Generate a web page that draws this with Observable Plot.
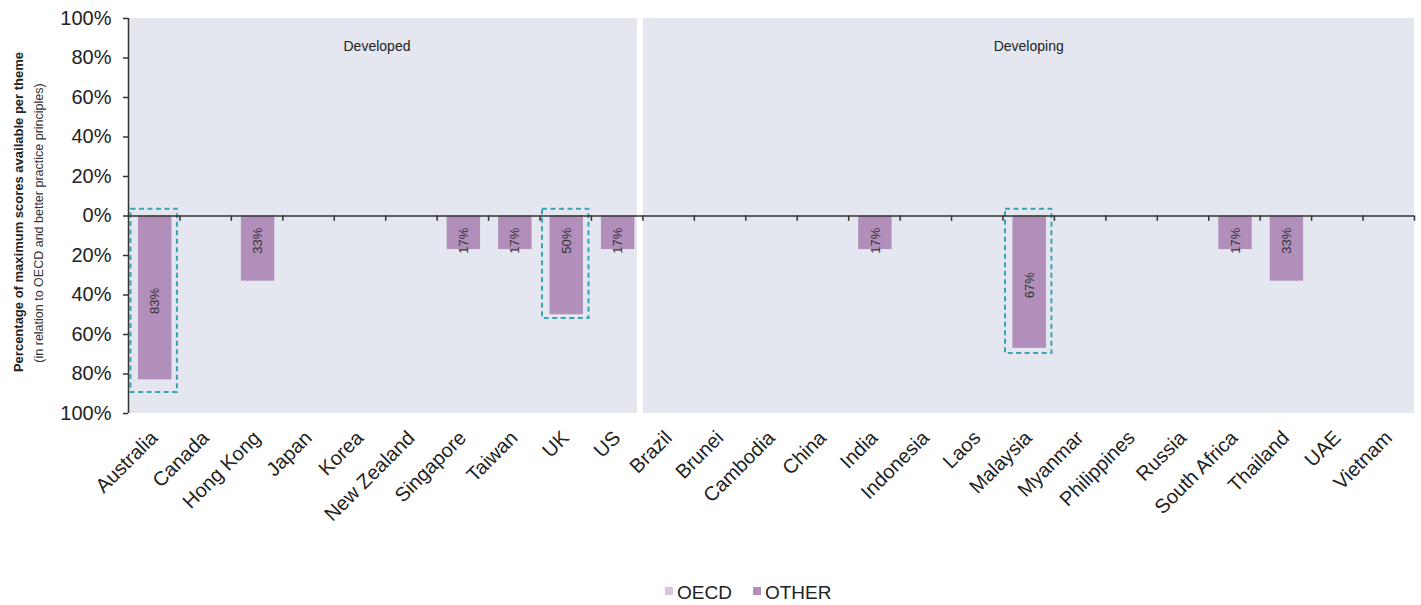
<!DOCTYPE html>
<html><head><meta charset="utf-8">
<script src="https://cdn.jsdelivr.net/npm/d3@7"></script>
<script src="https://cdn.jsdelivr.net/npm/@observablehq/plot@0.6"></script>
<style>
body{margin:0;background:#fff;font-family:"Liberation Sans",Arial,sans-serif;}
#wrap{position:relative;width:1421px;height:605px;overflow:hidden;}
#legend{position:absolute;left:665px;top:581px;font-size:19px;line-height:24px;color:#222;display:flex;align-items:flex-start;white-space:nowrap;}
#legend .item{display:flex;align-items:flex-start;margin-right:21px;}
#legend .sw{width:8px;height:8px;margin-top:6px;margin-right:4px;display:inline-block;}
</style></head><body>
<div id="wrap"><div id="chart"></div><div id="legend"></div></div>
<script>
const developed = ["Australia","Canada","Hong Kong","Japan","Korea","New Zealand","Singapore","Taiwan","UK","US"];
const developing = ["Brazil","Brunei","Cambodia","China","India","Indonesia","Laos","Malaysia","Myanmar","Philippines","Russia","South Africa","Thailand","UAE","Vietnam"];
const categories = developed.concat(developing);
const seriesNames = ["OECD","OTHER"];
const seriesColors = ["#d8c5dc","#b28fbb"];
const oecdValues  = [0,0,0,0,0,0,0,0,0,0, 0,0,0,0,0,0,0,0,0,0,0,0,0,0,0];
const otherValues = [83,0,33,0,0,0,17,17,50,17, 0,0,0,0,17,0,0,67,0,0,0,17,33,0,0];
const highlightCountries = ["Australia","UK","Malaysia"];
const highlightTop = [4.7,4.7,4.7];
const highlightBottom = [90.6,53.2,70.9];
const yTicks = [-100,-80,-60,-40,-20,0,20,40,60,80,100];
const panelLabels = ["Developed","Developing"];
const yTitle = "Percentage of maximum scores available per theme";
const ySubtitle = "(in relation to OECD and better practice principles)";

const W = 1421, H = 560, ML = 128, MR = 7, MT = 18, MB = 147;
const step = (W - ML - MR) / categories.length;

const rows = categories.map((c, i) => ({country: c, group: i < developed.length ? "Developed" : "Developing", oecd: oecdValues[i], other: otherValues[i]}));
const labelled = rows.filter(d => d.other > 0);
const boxes = highlightCountries.map((c, i) => ({country: c, top: highlightTop[i], bottom: highlightBottom[i]}));
// label placement mimics the source: short bars get labels near the top, long bars centred
const labelY = d => -(d.other >= 60 ? d.other / 2 + 1.5 : 12.5);

const ink = "#222";
const chart = Plot.plot({
  width: W, height: H, marginTop: MT, marginBottom: MB, marginLeft: ML, marginRight: MR,
  x: {domain: categories, padding: 0, round: false},
  y: {domain: [-100, 100]},
  style: {fontFamily: '"Liberation Sans", Arial, sans-serif', color: ink, background: "transparent", overflow: "visible"},
  marks: [
    Plot.barY(categories, {x: d => d, y1: -100, y2: 100, fill: "#e4e7f0", shapeRendering: "crispEdges"}),
    Plot.ruleX(["US"], {x: d => d, dx: step / 2 - 3, stroke: "white", strokeWidth: 6}),
    Plot.text([panelLabels[0]], {x: () => "Korea", dx: 17, frameAnchor: "top", dy: 23, text: d => d, fontSize: 14, fill: ink}),
    Plot.text([panelLabels[1]], {x: () => "Malaysia", frameAnchor: "top", dy: 23, text: d => d, fontSize: 14, fill: ink}),
    Plot.barY(rows, {x: "country", y1: 0, y2: d => d.oecd, fill: seriesColors[0], insetLeft: 10, insetRight: 8}),
    Plot.barY(rows, {x: "country", y1: 0, y2: d => -d.other, fill: seriesColors[1], insetLeft: 10, insetRight: 8}),
    Plot.text(labelled, {x: "country", y: labelY, text: d => d.other + "%", rotate: -90, fontSize: 13, fill: "#333", dx: 1}),
    Plot.barY(boxes, {x: "country", y1: d => d.top, y2: d => -d.bottom, fill: "none", stroke: "#3ba3b3", strokeWidth: 2, strokeDasharray: "5,3.5", inset: 2.5}),
    Plot.ruleY([0], {stroke: "#333", strokeWidth: 1.5}),
    Plot.ruleX(categories, {x: d => d, dx: step / 2, y1: 0, y2: -2.7, stroke: "#333", strokeWidth: 1.5}),
    Plot.ruleX(["Australia"], {x: d => d, dx: -step / 2, stroke: "#333", strokeWidth: 1.5}),
    Plot.axisY({ticks: yTicks, tickFormat: d => Math.abs(d) + "%", tickSize: 5, tickPadding: 12, fontSize: 20, label: null, stroke: "#333", strokeWidth: 1.5, fill: ink}),
    Plot.axisX({tickRotate: -45, tickSize: 0, tickPadding: 21, fontSize: 20, label: null, fill: ink}),
    Plot.text([yTitle], {frameAnchor: "left", dx: -110, dy: -4, rotate: -90, textAnchor: "middle", fontWeight: "bold", fontSize: 13, letterSpacing: "0.4px", fill: ink}),
    Plot.text([ySubtitle], {frameAnchor: "left", dx: -90, dy: 7, rotate: -90, textAnchor: "middle", fontSize: 12.5, letterSpacing: "0.2px", fill: "#333"})
  ]
});
document.getElementById("chart").appendChild(chart);

const legend = document.getElementById("legend");
seriesNames.forEach((n, i) => {
  const it = document.createElement("span"); it.className = "item";
  const sw = document.createElement("span"); sw.className = "sw"; sw.style.background = seriesColors[i];
  it.appendChild(sw); it.appendChild(document.createTextNode(n));
  legend.appendChild(it);
});
</script>
</body></html>
